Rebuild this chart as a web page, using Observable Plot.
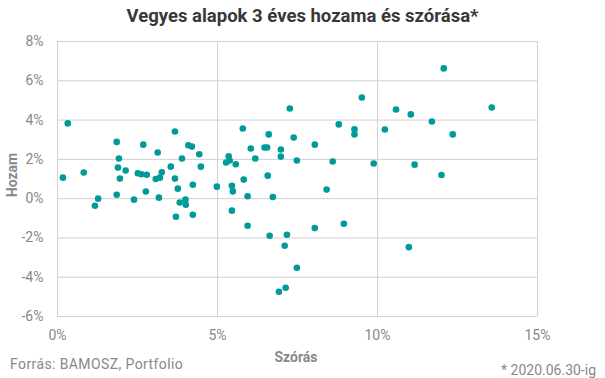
<!DOCTYPE html>
<html>
<head>
<meta charset="utf-8">
<script src="https://cdn.jsdelivr.net/npm/d3@7"></script>
<script src="https://cdn.jsdelivr.net/npm/@observablehq/plot@0.6"></script>
<style>
  html, body { margin: 0; padding: 0; background: #fff; }
  #wrap { position: relative; width: 605px; height: 378px; font-family: Roboto, "Noto Sans", sans-serif; }
  .t { position: absolute; white-space: nowrap; }
  #title { left: 0; width: 605px; top: 5px; text-align: center; font-weight: 700; font-size: 18.5px; color: #383838; letter-spacing: 0px; }
  #src { left: 10px; top: 356px; font-size: 14px; color: #888; letter-spacing: 0.4px; }
  #note { right: 9px; top: 362px; font-size: 14px; color: #888; }
  #ylab { left: 12px; top: 175px; font-size: 14px; font-weight: 700; color: #888; transform: translate(-50%, -50%) rotate(-90deg); }
  #xlab { left: 296px; top: 349px; transform: translateX(-50%); font-size: 14px; font-weight: 700; color: #888; }
</style>
</head>
<body>
<div id="wrap">
  <div id="chart"></div>
  <div class="t" id="title">Vegyes alapok 3 éves hozama és szórása*</div>
  <div class="t" id="ylab">Hozam</div>
  <div class="t" id="xlab">Szórás</div>
  <div class="t" id="src">Forrás: BAMOSZ, Portfolio</div>
  <div class="t" id="note">* 2020.06.30-ig</div>
</div>
<script>
// Szórás (x, %) values
const szoras = [
  0.17, 0.32, 0.82, 1.17, 1.27,
  1.85, 1.92, 1.89, 2.13, 1.95, 1.85, 2.39,
  2.68, 2.51, 2.62, 2.79, 2.76,
  3.13, 3.26, 3.07, 3.20, 3.17,
  3.67, 3.89, 3.54, 3.67, 3.76, 3.70,
  4.09, 4.20, 4.43, 4.48, 4.23, 4.00, 3.82, 4.01, 4.23,
  4.98, 5.79, 5.35, 5.27, 5.38, 5.57, 5.82, 5.45, 5.48, 5.45, 5.94, 6.04, 5.94,
  7.26, 6.60, 7.38, 6.47, 6.55, 6.98, 6.98, 6.18, 7.48, 8.04, 8.79, 9.28, 9.28, 8.60, 8.41, 6.57, 6.73, 8.04, 8.95,
  6.63, 7.17, 7.10, 7.48, 6.92, 7.13,
  12.07, 9.51, 10.58, 11.04, 13.57, 11.70, 10.23, 12.35, 9.88, 11.16, 12.00, 10.98
];
// Hozam (y, %) values
const hozam = [
  1.07, 3.83, 1.33, -0.36, 0.00,
  2.89, 2.04, 1.58, 1.43, 1.02, 0.20, -0.05,
  2.75, 1.29, 1.24, 1.22, 0.36,
  2.35, 1.34, 1.00, 1.07, 0.05,
  3.42, 2.04, 1.63, 1.02, 0.51, -0.92,
  2.72, 2.65, 2.26, 1.63, 0.71, -0.05, -0.20, -0.31, -0.82,
  0.61, 3.57, 2.16, 1.84, 1.94, 1.75, 0.97, 0.66, 0.37, -0.61, 0.12, 2.55, -1.38,
  4.59, 3.27, 3.11, 2.60, 2.60, 2.50, 2.14, 2.04, 1.94, 2.75, 3.78, 3.53, 3.27, 1.89, 0.46, 1.17, 0.08, -1.50, -1.28,
  -1.89, -1.84, -2.40, -3.52, -4.74, -4.54,
  6.63, 5.15, 4.54, 4.29, 4.64, 3.93, 3.52, 3.27, 1.79, 1.73, 1.20, -2.47
];
const xTicks = [0, 5, 10, 15];
const yTicks = [-6, -4, -2, 0, 2, 4, 6, 8];

const data = szoras.map((x, i) => ({x, y: hozam[i]}));

const chart = Plot.plot({
  width: 605,
  height: 378,
  marginTop: 41,
  marginBottom: 62,
  marginLeft: 57,
  marginRight: 68,
  style: { fontFamily: "Roboto, 'Noto Sans', sans-serif", fontSize: "14px", color: "#888", background: "transparent" },
  x: { domain: [0, 15], ticks: xTicks, tickFormat: d => d + "%", label: null },
  y: { domain: [-6, 8], ticks: yTicks, tickFormat: d => d + "%", label: null },
  marks: [
    Plot.gridX(xTicks, { stroke: "#d0d0d0", strokeOpacity: 1, strokeWidth: 1 }),
    Plot.gridY(yTicks, { stroke: "#d0d0d0", strokeOpacity: 1, strokeWidth: 1 }),
    Plot.axisX({ ticks: xTicks, tickFormat: d => d + "%", tickSize: 0, tickPadding: 14, label: null, fill: "#888" }),
    Plot.axisY({ ticks: yTicks, tickFormat: d => d + "%", tickSize: 0, tickPadding: 14, label: null, fill: "#888" }),
    Plot.dot(data, { x: "x", y: "y", r: 3.3, fill: "#009a9a", stroke: null })
  ]
});
document.getElementById("chart").appendChild(chart);
</script>
</body>
</html>
